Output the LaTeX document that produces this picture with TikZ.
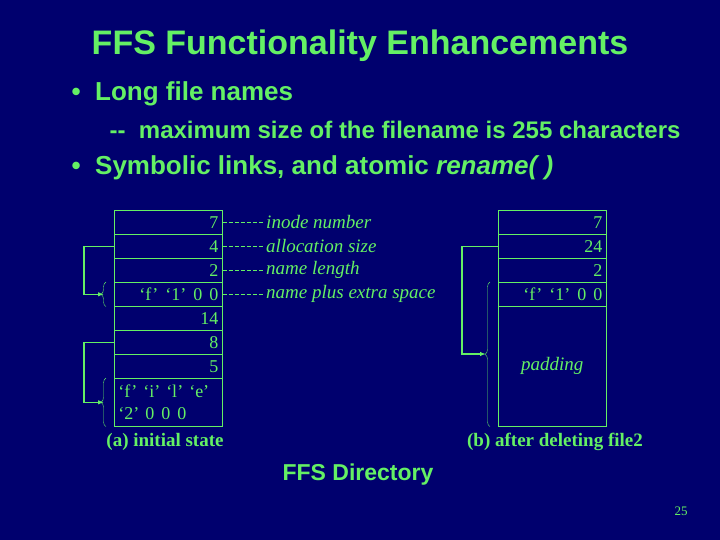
\documentclass[tikz,border=0pt]{standalone}
\usepackage{fontspec}
\setmainfont{Liberation Serif}
\newfontfamily\arial{Liberation Sans}
\usetikzlibrary{positioning,calc,decorations.pathreplacing,arrows.meta}
\definecolor{slidebg}{RGB}{0,0,110}
\definecolor{slidefg}{RGB}{100,240,100}
\newcommand{\gap}{\hspace{7pt}}
\begin{document}
\begin{tikzpicture}[x=1pt,y=-1pt,line width=0.6pt,
  cell/.style={draw=slidefg,minimum width=108pt,minimum height=24pt,inner xsep=4pt,inner ysep=2pt,
    text width=100pt,anchor=north west,align=right,text=slidefg,font=\fontsize{18}{22}\selectfont},
  note/.style={anchor=west,text=slidefg,font=\fontsize{19}{21}\selectfont\itshape},
  link/.style={draw=slidefg,line width=1.6pt,-{Latex[length=6pt]}},
  bracer/.style={draw=slidefg,thin,decorate,decoration={brace,amplitude=5pt,mirror}}]
\fill[slidebg] (0,0) rectangle (720,540);
\node[text=slidefg,font=\arial\bfseries\fontsize{34}{36}\selectfont] (title) at (360,46) {FFS Functionality Enhancements};
\node[anchor=west,text=slidefg,font=\arial\bfseries\fontsize{26}{28}\selectfont] (b1) at (68,94) {\textbullet\ \ Long file names};
\node[anchor=west,text=slidefg,font=\arial\bfseries\fontsize{24}{26}\selectfont] (b2) at (106,130) {--\ \ maximum size of the filename is 255 characters};
\node[anchor=west,text=slidefg,font=\arial\bfseries\fontsize{26}{28}\selectfont] (b3) at (68,168) {\textbullet\ \ Symbolic links, and atomic \textit{rename( )}};
% (a) initial state
\node[cell] (a1) at (114,210) {7};
\node[cell] (a2) at (114,234) {4};
\node[cell] (a3) at (114,258) {2};
\node[cell] (a4) at (114,282) {`f'\gap`1'\gap0\gap0};
\node[cell] (a5) at (114,306) {14};
\node[cell] (a6) at (114,330) {8};
\node[cell] (a7) at (114,354) {5};
\node[cell,minimum height=48pt,align=left] (a8) at (114,378) {`f'\ `i'\ `l'\ `e'\\`2'\ 0\gap0\gap0};
\foreach \r/\t in {a1/inode number,a2/allocation size,a3/name length,a4/name plus extra space}{
  \node[note] (n\r) at ($(\r.east)+(40,0)$) {\t};
  \draw[slidefg,dash pattern=on 4pt off 2pt,thin] (\r.east) -- (n\r.west);
}
\draw[link] (a2.west) -- ++(-30,0) |- ($(a4.west)+(-10,0)$);
\draw[link] (a6.west) -- ++(-30,0) |- ($(a8.west)+(-10,0)$);
\draw[bracer] ($(a4.north west)+(-8,0)$) -- ($(a4.south west)+(-8,0)$);
\draw[bracer] ($(a8.north west)+(-8,0)$) -- ($(a8.south west)+(-8,0)$);
\node[text=slidefg,font=\bfseries\fontsize{19}{21}\selectfont] (capa) at (165,442) {(a) initial state};
% (b) after deleting file2
\node[cell] (b1c) at (498,210) {7};
\node[cell] (b2c) at (498,234) {24};
\node[cell] (b3c) at (498,258) {2};
\node[cell] (b4c) at (498,282) {`f'\gap`1'\gap0\gap0};
\node[cell,minimum height=120pt,align=center,font=\fontsize{19}{21}\selectfont\itshape] (b5c) at (498,306) {padding};
\draw[bracer] ($(b4c.north west)+(-8,0)$) -- ($(b5c.south west)+(-8,0)$);
\draw[link] (b2c.west) -- ++(-36,0) |- (486,354);
\node[text=slidefg,font=\bfseries\fontsize{19}{21}\selectfont] (capb) at (555,442) {(b) after deleting file2};
\node[text=slidefg,font=\arial\bfseries\fontsize{23}{26}\selectfont] (dir) at (358,475) {FFS Directory};
\node[text=slidefg,font=\fontsize{13}{15}\selectfont] (pg) at (681,511) {25};
\end{tikzpicture}
\end{document}
